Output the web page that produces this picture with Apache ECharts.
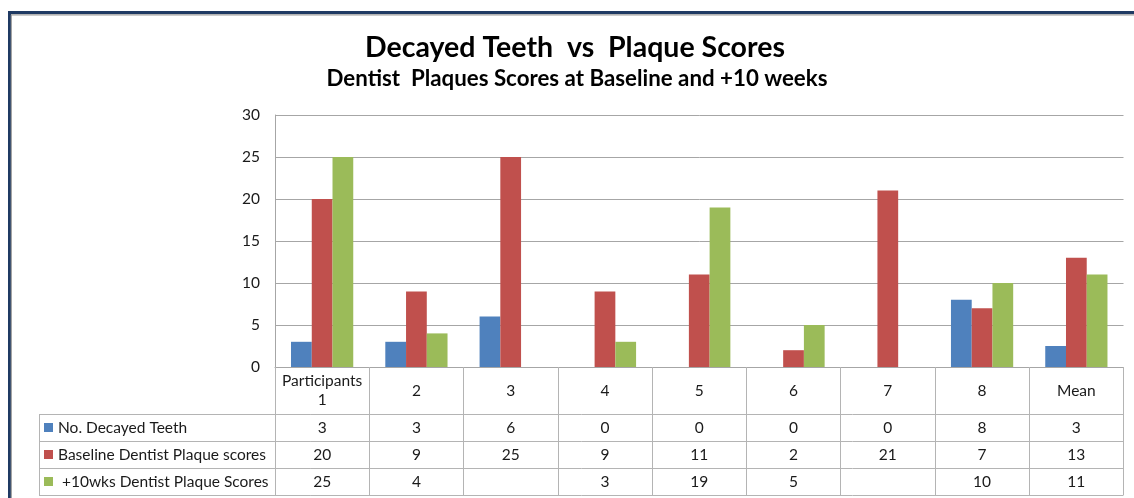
<!DOCTYPE html>
<html>
<head>
<meta charset="utf-8">
<script src="https://cdn.jsdelivr.net/npm/echarts@6/dist/echarts.min.js"></script>
<style>
  html, body { margin: 0; padding: 0; background: #ffffff; }
  #chart { width: 1134px; height: 498px; }
</style>
</head>
<body>
<div id="chart"></div>
<script>
// ---- data ----
const categories = ['Participants\n1', '2', '3', '4', '5', '6', '7', '8', 'Mean'];
const seriesNames = ['No. Decayed Teeth', 'Baseline Dentist Plaque scores', ' +10wks Dentist Plaque Scores'];
const decayedTeeth = [3, 3, 6, 0, 0, 0, 0, 8, 2.5];
const baselineScores = [20, 9, 25, 9, 11, 2, 21, 7, 13];
const weeks10Scores = [25, 4, null, 3, 19, 5, null, 10, 11];
const yMin = 0, yMax = 30, yStep = 5;
const titleText = 'Decayed Teeth  vs  Plaque Scores';
const subtitleText = 'Dentist  Plaques Scores at Baseline and +10 weeks';

// ---- layout ----
const W = 1134, H = 498;
const FONT = 'Lato, "Open Sans", sans-serif';
const colors = ['#4F81BD', '#C0504D', '#9BBB59'];
const gridLeft = 275, gridTop = 115, plotBottom = 367, gridRight = 1123.5;
const tableLeft = 39, rowTops = [414, 441, 468], tableBottom = 495;
const rowH = 27;
const lineGray = '#A6A6A6';
const tableGray = '#B4B4B4';
const textColor = '#1a1a1a';
const tableFontSize = 15.5;

const allSeries = [decayedTeeth, baselineScores, weeks10Scores];

// value rows of the data table, one category axis per series
const valueAxes = allSeries.map((vals, i) => ({
  type: 'category',
  gridIndex: 0,
  position: 'bottom',
  offset: rowTops[i] - plotBottom,
  data: vals.map(v => (v == null ? '' : String(Math.round(v)))),
  axisLine: { show: false },
  axisTick: { show: false },
  axisLabel: {
    interval: 0, margin: rowH / 2, verticalAlign: 'middle',
    fontFamily: FONT, fontSize: tableFontSize, color: textColor
  }
}));

const hLines = rowTops.concat([tableBottom]).map(y => ({
  type: 'line',
  shape: { x1: tableLeft, y1: y + 0.5, x2: gridRight, y2: y + 0.5 },
  style: { stroke: tableGray, lineWidth: 1 },
  silent: true
}));

const option = {
  animation: false,
  backgroundColor: '#ffffff',
  color: colors,
  grid: { left: gridLeft, top: gridTop, right: W - gridRight, bottom: H - plotBottom, containLabel: false },
  legend: {
    orient: 'vertical', left: tableLeft + 5, top: rowTops[0],
    padding: 0, itemGap: 0, itemWidth: 9, itemHeight: 9,
    icon: 'rect', selectedMode: false,
    data: seriesNames,
    textStyle: { fontFamily: FONT, fontSize: tableFontSize, color: textColor, lineHeight: rowH }
  },
  xAxis: [{
    type: 'category',
    data: categories,
    position: 'bottom',
    axisLine: { show: true, lineStyle: { color: lineGray, width: 1 } },
    axisTick: { show: true, interval: 0, length: tableBottom - plotBottom, alignWithLabel: false,
                lineStyle: { color: tableGray, width: 1 } },
    axisLabel: {
      interval: 0, margin: (rowTops[0] - plotBottom) / 2, verticalAlign: 'middle',
      fontFamily: FONT, fontSize: tableFontSize, color: textColor, lineHeight: 19, align: 'center'
    },
    splitLine: { show: false }
  }].concat(valueAxes),
  yAxis: {
    type: 'value', min: yMin, max: yMax, interval: yStep,
    axisLine: { show: true, lineStyle: { color: lineGray, width: 1 } },
    axisTick: { show: false },
    axisLabel: { margin: 15, fontFamily: FONT, fontSize: tableFontSize, color: textColor },
    splitLine: { show: true, lineStyle: { color: lineGray, width: 1 } }
  },
  series: allSeries.map((vals, i) => ({
    name: seriesNames[i],
    type: 'bar',
    xAxisIndex: 0,
    data: vals,
    barGap: '0%',
    barCategoryGap: '34%',
    itemStyle: { color: colors[i] }
  })),
  graphic: [
    // outer frame
    { type: 'rect', shape: { x: 9.5, y: 12.5, width: 1300, height: 700 },
      style: { fill: null, stroke: '#1F3A63', lineWidth: 3 }, silent: true },
    { type: 'line', shape: { x1: 11, y1: 14.8, x2: W, y2: 14.8 },
      style: { stroke: '#9A9A9A', lineWidth: 1.2 }, silent: true },
    { type: 'line', shape: { x1: 11.3, y1: 14.8, x2: 11.3, y2: H },
      style: { stroke: '#9A9A9A', lineWidth: 1.2 }, silent: true },
    // titles
    { type: 'text', x: 575, y: 48,
      style: { text: titleText, fontFamily: FONT, fontWeight: 'bold', fontSize: 28.5,
               fill: '#000', textAlign: 'center', textVerticalAlign: 'middle' } },
    { type: 'text', x: 577, y: 79,
      style: { text: subtitleText, fontFamily: FONT, fontWeight: 'bold', fontSize: 22.3,
               fill: '#000', textAlign: 'center', textVerticalAlign: 'middle' } },
    // data table rulings outside the axes
    { type: 'line', shape: { x1: tableLeft + 0.5, y1: rowTops[0], x2: tableLeft + 0.5, y2: tableBottom + 0.5 },
      style: { stroke: tableGray, lineWidth: 1 }, silent: true }
  ].concat(hLines)
};

const chart = echarts.init(document.getElementById('chart'), null, { renderer: 'canvas' });
chart.setOption(option);
</script>
</body>
</html>
